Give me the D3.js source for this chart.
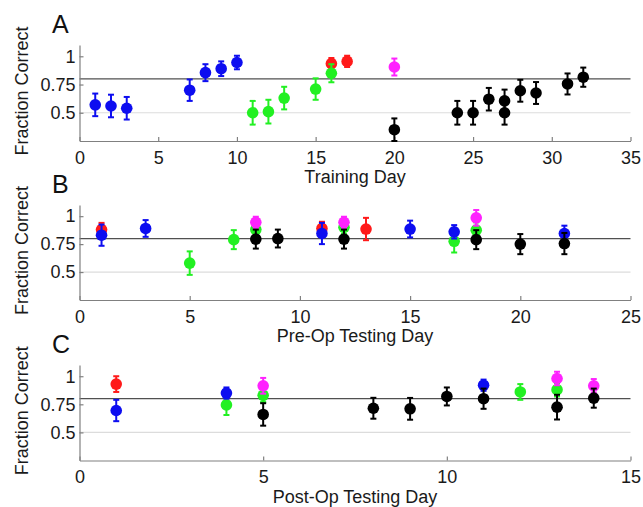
<!DOCTYPE html>
<html><head><meta charset="utf-8">
<script src="https://cdn.jsdelivr.net/npm/d3@7"></script>
<style>
html,body{margin:0;padding:0;background:#fff;}
svg text{font-family:"Liberation Sans",Arial,Helvetica,sans-serif;}
</style></head>
<body><svg id="c" width="643" height="507"></svg>
<script>
// ---- series (groups) ----
const seriesNames = ["red","green","blue","magenta","black"];
const seriesColors = ["#ff1a1a","#22f022","#0d0df0","#ff22ff","#000000"];

// ---- tick labels ----
const yTicks = [0.5, 0.75, 1];
const criterion = 0.8;
const chance = 0.5;

// ---- Panel A: Training Day ----
const aGroup = ["blue","blue","blue","blue","blue","blue","blue",
  "green","green","green","green","green","red","red","magenta",
  "black","black","black","black","black","black","black","black","black","black"];
const aDay   = [1,2,3,7,8,9,10, 11,12,13,15,16, 16,17, 20, 20,24,25,26,27,27,28,29,31,32];
const aValue = [0.57,0.56,0.54,0.70,0.855,0.89,0.945, 0.50,0.51,0.63,0.71,0.85, 0.935,0.955, 0.905,
  0.35,0.50,0.50,0.62,0.605,0.50,0.695,0.675,0.755,0.815];
const aErr   = [0.10,0.10,0.10,0.095,0.075,0.065,0.06, 0.105,0.105,0.10,0.095,0.08, 0.05,0.05, 0.075,
  0.10,0.105,0.105,0.10,0.10,0.105,0.097,0.097,0.093,0.085];

// ---- Panel B: Pre-Op Testing Day ----
const bGroup = ["red","red","red",
  "green","green","green","green","green","green",
  "blue","blue","blue","blue","blue","blue",
  "magenta","magenta","magenta",
  "black","black","black","black","black","black"];
const bDay   = [1,11,13, 5,7,8,12,17,18, 1,3,11,15,17,22, 8,12,18, 8,9,12,18,20,22];
const bValue = [0.88,0.89,0.885, 0.58,0.79,0.88,0.90,0.775,0.875, 0.83,0.89,0.845,0.885,0.86,0.845,
  0.945,0.945,0.985, 0.795,0.80,0.795,0.79,0.75,0.755];
const bErr   = [0.06,0.06,0.10, 0.105,0.085,0.06,0.06,0.10,0.07, 0.095,0.075,0.095,0.075,0.06,0.07,
  0.05,0.05,0.07, 0.085,0.08,0.085,0.085,0.09,0.095];

// ---- Panel C: Post-Op Testing Day ----
const cGroup = ["red", "green","green","green","green", "blue","blue","blue",
  "magenta","magenta","magenta", "black","black","black","black","black","black","black"];
const cDay   = [1, 4,5,12,13, 1,4,11, 5,13,14, 5,8,9,10,11,13,14];
const cValue = [0.93, 0.745,0.83,0.86,0.88, 0.695,0.85,0.92, 0.915,0.98,0.915,
  0.66,0.715,0.71,0.82,0.80,0.725,0.805];
const cErr   = [0.07, 0.09,0.06,0.07,0.06, 0.095,0.05,0.05, 0.07,0.06,0.06,
  0.10,0.093,0.097,0.08,0.09,0.11,0.085];

const panels = [
  {letter:"A", xlabel:"Training Day", xmax:35, xticks:[0,5,10,15,20,25,30,35], top:45, bottom:141,
   group:aGroup, day:aDay, value:aValue, err:aErr},
  {letter:"B", xlabel:"Pre-Op Testing Day", xmax:25, xticks:[0,5,10,15,20,25], top:205, bottom:300,
   group:bGroup, day:bDay, value:bValue, err:bErr},
  {letter:"C", xlabel:"Post-Op Testing Day", xmax:15, xticks:[0,5,10,15], top:365, bottom:460.5,
   group:cGroup, day:cDay, value:cValue, err:cErr}
];

const svg = d3.select("#c");
const left = 79.5, right = 630.5;
const color = d3.scaleOrdinal().domain(seriesNames).range(seriesColors);
const FS = 18;

panels.forEach(p => {
  const x = d3.scaleLinear().domain([0, p.xmax]).range([left, right]);
  const y = d3.scaleLinear().domain([0.25, 1.1]).range([p.bottom, p.top]);
  const g = svg.append("g");

  // reference lines
  g.append("line").attr("x1", x(0)).attr("x2", x(p.xmax))
    .attr("y1", y(chance)).attr("y2", y(chance))
    .attr("stroke", "#dcdcdc").attr("stroke-width", 1.2);
  g.append("line").attr("x1", x(0)).attr("x2", x(p.xmax))
    .attr("y1", y(criterion)).attr("y2", y(criterion))
    .attr("stroke", "#505050").attr("stroke-width", 1.2);

  // axes
  const xa = g.append("g").attr("transform", `translate(0,${p.bottom})`)
    .call(d3.axisBottom(x).tickValues(p.xticks).tickSizeInner(-4).tickSizeOuter(0)
      .tickPadding(10).tickFormat(d => String(d)));
  const ya = g.append("g").attr("transform", `translate(${left},0)`)
    .call(d3.axisLeft(y).tickValues(yTicks).tickSizeInner(-4).tickSizeOuter(0)
      .tickPadding(4).tickFormat(d => String(d)));
  [xa, ya].forEach(a => {
    a.select(".domain").attr("stroke", "#808080").attr("stroke-width", 1.2);
    a.selectAll(".tick line").attr("stroke", "#808080").attr("stroke-width", 1.2);
    a.selectAll(".tick text").attr("fill", "#1a1a1a").style("font-size", FS + "px")
      .attr("font-family", null);
  });

  // labels
  g.append("text").attr("x", (left + right) / 2).attr("y", p.bottom + 42)
    .attr("text-anchor", "middle").attr("fill", "#1a1a1a").style("font-size", FS + "px")
    .text(p.xlabel);
  g.append("text")
    .attr("transform", `translate(28,${(p.top + p.bottom) / 2 - 2}) rotate(-90)`)
    .attr("text-anchor", "middle").attr("fill", "#1a1a1a").style("font-size", FS + "px")
    .text("Fraction Correct");
  g.append("text").attr("x", 52).attr("y", p.top - 12)
    .attr("fill", "#111").style("font-size", "25px").text(p.letter);

  // data points, drawn in series order
  const pts = p.day.map((d, i) => ({day: d, v: p.value[i], e: p.err[i], grp: p.group[i]}));
  pts.sort((a, b) => seriesNames.indexOf(a.grp) - seriesNames.indexOf(b.grp));
  const mk = g.append("g").selectAll("g").data(pts).join("g");
  mk.append("line").attr("x1", d => x(d.day)).attr("x2", d => x(d.day))
    .attr("y1", d => y(d.v - d.e)).attr("y2", d => y(Math.min(d.v + d.e, 1.1)))
    .attr("stroke", d => color(d.grp)).attr("stroke-width", 2);
  mk.append("line").attr("x1", d => x(d.day) - 3).attr("x2", d => x(d.day) + 3)
    .attr("y1", d => y(d.v - d.e)).attr("y2", d => y(d.v - d.e))
    .attr("stroke", d => color(d.grp)).attr("stroke-width", 2);
  mk.append("line").attr("x1", d => x(d.day) - 3).attr("x2", d => x(d.day) + 3)
    .attr("y1", d => y(d.v + d.e)).attr("y2", d => y(d.v + d.e))
    .attr("stroke", d => color(d.grp)).attr("stroke-width", 2);
  mk.append("circle").attr("cx", d => x(d.day)).attr("cy", d => y(d.v)).attr("r", 5.8)
    .attr("fill", d => color(d.grp));
});
</script></body></html>
